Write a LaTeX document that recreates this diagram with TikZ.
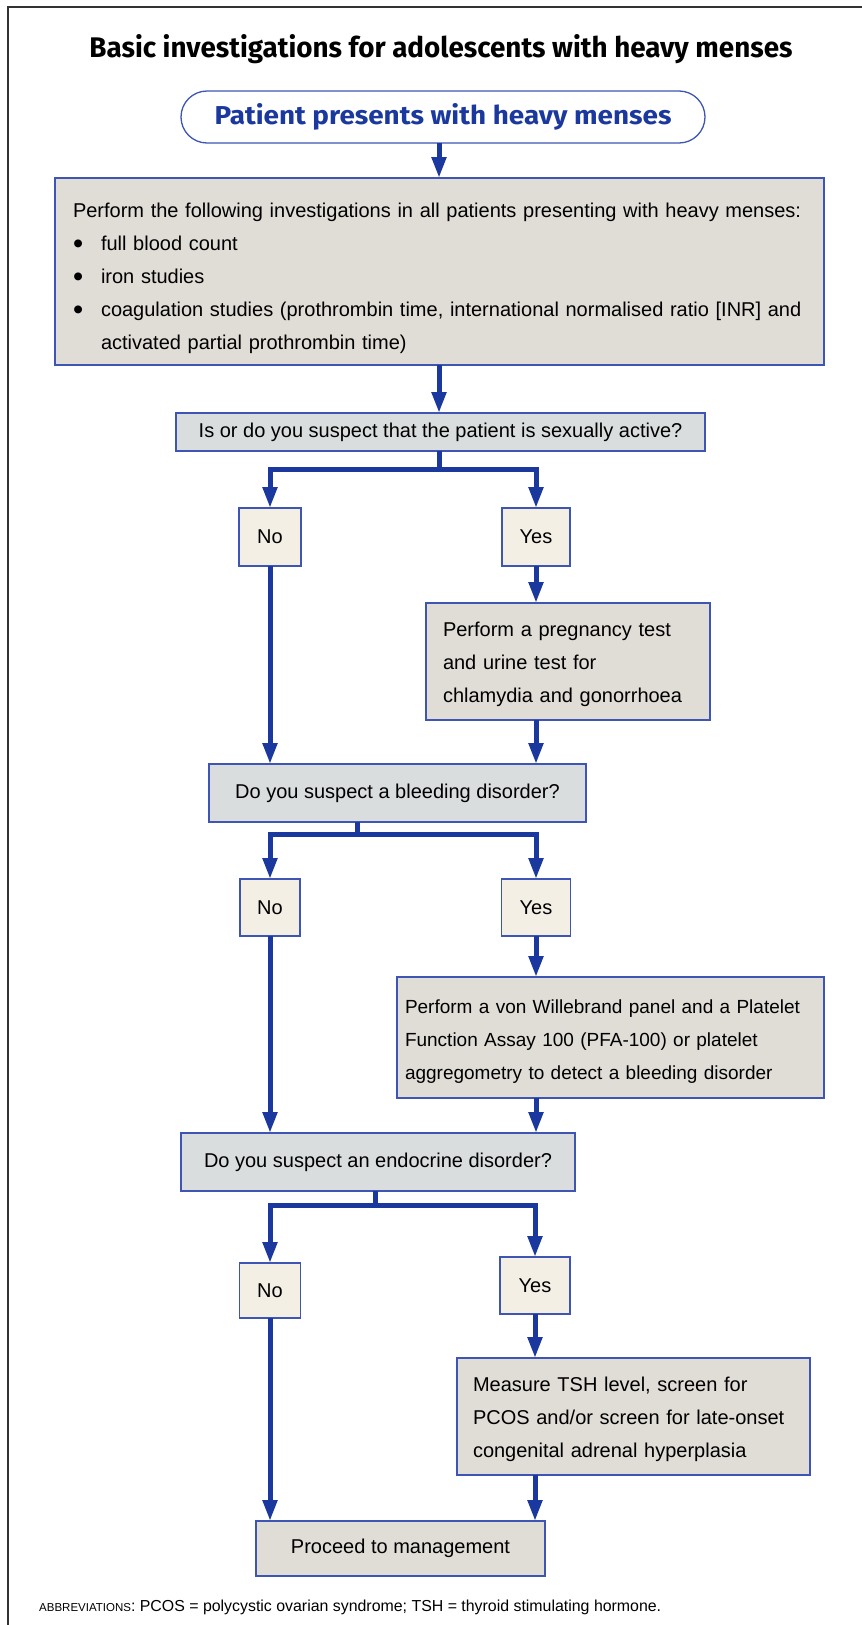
\documentclass[tikz,border=0pt]{standalone}
\usepackage{fontspec}
\setmainfont{Liberation Sans}
\newfontfamily\titlefont{Fira Sans}
\usetikzlibrary{arrows.meta}
\definecolor{bordercol}{HTML}{3F55B3}
\definecolor{arrowcol}{HTML}{1B389E}
\definecolor{boxfill}{HTML}{E0DCD6}
\definecolor{qfill}{HTML}{D9DDDD}
\definecolor{ynfill}{HTML}{F3EFE4}
\definecolor{framecol}{HTML}{333333}
\newcommand{\bigbul}{\makebox[28pt][l]{\raisebox{-2.5pt}{\scalebox{1.45}{\textbullet}}}}
\begin{document}
\begin{tikzpicture}[x=1pt,y=-1pt,
  base/.style={draw=bordercol, line width=1.3pt, outer sep=0pt, inner sep=0pt,
    font=\fontsize{20}{33}\selectfont},
  infobox/.style={base, fill=boxfill, align=left},
  qbox/.style={base, fill=qfill, align=center},
  ynbox/.style={base, fill=ynfill, align=center},
  ln/.style={draw=arrowcol, line width=5pt, line join=miter},
  arr/.style={ln, -{Triangle[length=21pt,width=14pt]}}]
\useasboundingbox (0,0) rectangle (862,1625);
% frame
\draw[framecol, line width=1.5pt] (8,1625) -- (8,7) -- (862,7);
% title
\node[inner sep=0pt] (title) at (441,49) {\resizebox{703pt}{23pt}{\titlefont\bfseries Basic investigations for adolescents with heavy menses}};
% start oval
\node[draw=bordercol, line width=1.3pt, fill=white, rounded corners=26pt,
  minimum width=524pt, minimum height=52pt, inner sep=0pt, outer sep=0pt]
  (start) at (443,117) {\color{arrowcol}\resizebox{457pt}{21pt}{\titlefont\bfseries Patient presents with heavy menses}};
% box1
\node[infobox, minimum width=769pt, minimum height=187pt, text width=733pt] (box1) at (439.5,271.5)
{\rule{0pt}{29pt}Perform the following investigations in all patients presenting with heavy menses:\\
\bigbul full blood count\\
\bigbul iron studies\\
\bigbul coagulation studies (prothrombin time, international normalised ratio [INR] and\\
\hspace*{28pt}activated partial prothrombin time)};
% Q1
\node[qbox, minimum width=529pt, minimum height=38pt] (q1) at (440.5,432) {Is or do you suspect that the patient is sexually active?};
\node[ynbox, minimum width=62pt, minimum height=58pt] (no1) at (270,537) {No};
\node[ynbox, minimum width=68pt, minimum height=58pt] (yes1) at (536,537) {Yes};
\node[infobox, minimum width=284pt, minimum height=117pt, text width=250pt] (preg) at (568,661.5)
{\rule{0pt}{21pt}Perform a pregnancy test\\ and urine test for\\ chlamydia and gonorrhoea};
% Q2
\node[qbox, minimum width=377pt, minimum height=58pt] (q2) at (397.5,793) {Do you suspect a bleeding disorder?};
\node[ynbox, minimum width=60pt, minimum height=57pt] (no2) at (270,907.5) {No};
\node[ynbox, minimum width=69pt, minimum height=57pt] (yes2) at (536,907.5) {Yes};
\node[infobox, minimum width=427pt, minimum height=121pt, text width=411pt, font=\fontsize{19}{33}\selectfont] (vwf) at (610.5,1037.5)
{\rule{0pt}{21pt}Perform a von Willebrand panel and a Platelet\\ Function Assay 100 (PFA-100) or platelet\\ aggregometry to detect a bleeding disorder};
% Q3
\node[qbox, minimum width=394pt, minimum height=58pt] (q3) at (378,1162) {Do you suspect an endocrine disorder?};
\node[ynbox, minimum width=61pt, minimum height=55pt] (no3) at (270,1290.5) {No};
\node[ynbox, minimum width=70pt, minimum height=57pt] (yes3) at (535,1285.5) {Yes};
\node[infobox, minimum width=353pt, minimum height=117pt, text width=321pt] (tsh) at (633.5,1416.5)
{\rule{0pt}{21pt}Measure TSH level, screen for\\ PCOS and/or screen for late-onset\\ congenital adrenal hyperplasia};
% end
\node[infobox, align=center, minimum width=289pt, minimum height=55pt] (endbox) at (400.5,1548.5) {Proceed to management};
% abbreviations
\node[anchor=west, inner sep=0pt] (abbr) at (39,1607) {\fontsize{15.9}{18}\selectfont{\fontsize{11.5}{13}\selectfont ABBREVIATIONS}: PCOS = polycystic ovarian syndrome; TSH = thyroid stimulating hormone.};
% branch coordinates
\coordinate (b1) at (439,469);
\coordinate (b2) at (357,834);
\coordinate (b3) at (375,1205);
% connectors
\draw[arr] (start.south -| b1) -- (box1.north -| b1);
\draw[arr] (box1.south -| b1) -- (q1.north -| b1);
\draw[ln] (q1.south -| b1) -- (b1);
\draw[arr] (b1) -| (no1.north);
\draw[arr] (b1) -| (yes1.north);
\draw[arr] (no1.south) -- (no1.south |- q2.north);
\draw[arr] (yes1.south) -- (yes1.south |- preg.north);
\draw[arr] (preg.south -| yes1) -- (yes1 |- q2.north);
\draw[ln] (q2.south -| b2) -- (b2);
\draw[arr] (b2) -| (no2.north);
\draw[arr] (b2) -| (yes2.north);
\draw[arr] (no2.south) -- (no2.south |- q3.north);
\draw[arr] (yes2.south) -- (yes2.south |- vwf.north);
\draw[arr] (vwf.south -| yes2) -- (yes2 |- q3.north);
\draw[ln] (q3.south -| b3) -- (b3);
\draw[arr] (b3) -| (no3.north);
\draw[arr] (b3) -| (yes3.north);
\draw[arr] (no3.south) -- (no3.south |- endbox.north);
\draw[arr] (yes3.south) -- (yes3.south |- tsh.north);
\draw[arr] (tsh.south -| yes3) -- (yes3 |- endbox.north);
\end{tikzpicture}
\end{document}
